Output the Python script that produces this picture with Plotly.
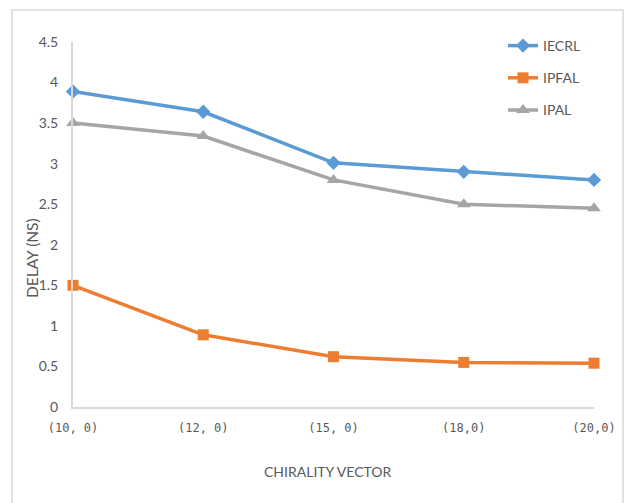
import plotly.graph_objects as go

categories = ["(10, 0)", "(12, 0)", "(15, 0)", "(18,0)", "(20,0)"]
iecrl = [3.89, 3.64, 3.01, 2.90, 2.80]
ipfal = [1.50, 0.89, 0.62, 0.55, 0.54]
ipal = [3.50, 3.34, 2.80, 2.50, 2.45]

W, H = 628, 503
L, R, T, B = 73, 34, 42, 96
pw, ph = W - L - R, H - T - B

def px2x(p):
    return (p - L) / pw

def py2y(p):
    return (H - B - p) / ph

fig = go.Figure()
series = [
    ("IECRL", iecrl, "#5B9BD5", "diamond", 11),
    ("IPFAL", ipfal, "#ED7D31", "square", 11),
    ("IPAL", ipal, "#A5A5A5", "triangle-up", 12),
]
for name, vals, col, sym, sz in series:
    fig.add_trace(go.Scatter(
        x=categories, y=vals, name=name, mode="lines+markers",
        line=dict(color=col, width=3.5),
        marker=dict(color=col, symbol=sym, size=sz),
        cliponaxis=False, legendgroup=name,
    ))

fig.update_layout(
    width=W, height=H,
    margin=dict(l=L, r=R, t=T, b=B, pad=0),
    paper_bgcolor="white", plot_bgcolor="white",
    font=dict(family="Lato", color="#595959", size=14),
    showlegend=True,
    legend=dict(x=px2x(503), y=py2y(30), xanchor="left", yanchor="top",
                font=dict(size=14, color="#595959"), tracegroupgap=11,
                bgcolor="rgba(0,0,0,0)", itemwidth=30),
    xaxis=dict(type="category", range=[0, 4], showgrid=False, showline=True,
               linecolor="#D9D9D9", linewidth=2, ticks="outside", ticklen=9,
               tickcolor="rgba(0,0,0,0)", zeroline=False,
               tickfont=dict(family="DejaVu Sans Mono", size=12, color="#595959")),
    yaxis=dict(range=[0, 4.5], dtick=0.5, showgrid=False, showline=True,
               linecolor="#D9D9D9", linewidth=2, ticks="outside", ticklen=10,
               tickcolor="rgba(0,0,0,0)", zeroline=False,
               tickfont=dict(size=14, color="#595959")),
)

fig.add_annotation(text="CHIRALITY VECTOR", xref="paper", yref="paper",
                   x=px2x(328), y=py2y(471), xanchor="center", yanchor="middle",
                   showarrow=False, font=dict(size=14, color="#595959"))
fig.add_annotation(text="DELAY (NS)", xref="paper", yref="paper",
                   x=px2x(32), y=py2y(258), xanchor="center", yanchor="middle",
                   showarrow=False, textangle=-90,
                   font=dict(size=15.5, color="#595959"))
fig.add_shape(type="rect", xref="paper", yref="paper",
              x0=px2x(12), x1=px2x(623), y0=py2y(520), y1=py2y(10),
              line=dict(color="#D9D9D9", width=1.5), layer="above")

fig.write_html("out.html", config={"displayModeBar": False},
               post_script="document.body.style.margin='0';document.body.style.overflow='hidden';")
